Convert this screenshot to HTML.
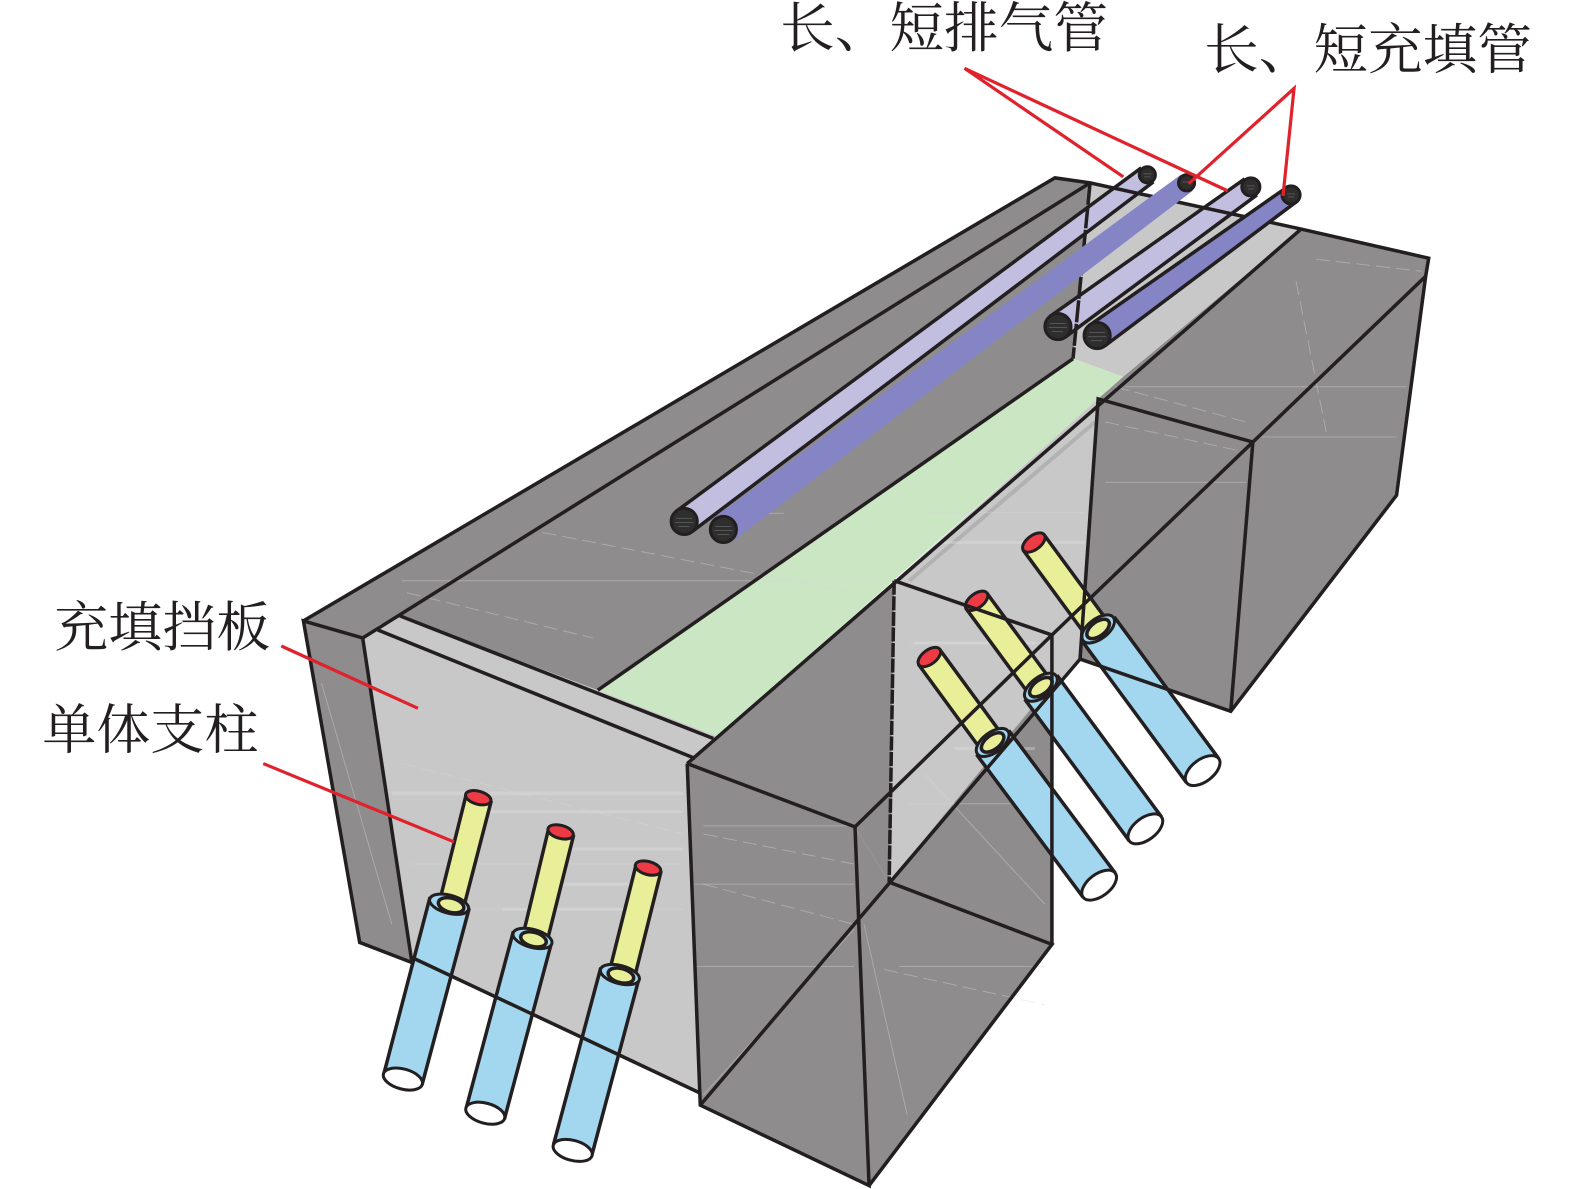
<!DOCTYPE html>
<html><head><meta charset="utf-8">
<style>
html,body{margin:0;padding:0;background:#fff;width:1575px;height:1189px;overflow:hidden}
svg{display:block}
.k{fill:none;stroke:#231f20;stroke-width:3.5;stroke-linejoin:miter}
.g{fill:#8e8c8d}.l{fill:#c8c8c8}
.r{stroke:#e0222c;stroke-width:3.2;fill:none}
.tx{font-family:"Liberation Serif","Noto Serif CJK SC",serif;font-size:54.4px;fill:#231f20}
.w{stroke:#d6d6d6;stroke-width:1;fill:none;opacity:.4}
.d{stroke:#d6d6d6;stroke-width:1;fill:none;stroke-dasharray:14 6;opacity:.4}
.b{stroke:#e2e2e2;stroke-width:3;fill:none;opacity:.35}
.c{fill:#2f2e2f;stroke:#231f20;stroke-width:3}
.h{fill:none;stroke:#231f20;stroke-width:3.5}
.s{stroke:#565556;stroke-width:1;fill:none}
</style></head>
<body>
<svg width="1575" height="1189" viewBox="0 0 1575 1189" xmlns="http://www.w3.org/2000/svg">
<g transform="scale(1.0047)">
<!-- faces -->
<polygon class="g" points="302,618 1050,177 1085,182 1068,357 595,687 398,613 361,635"/>
<polygon class="l" points="1085,182 1295,228 1118,375 1068,357"/>
<polygon fill="#cae6c3" points="1068,357 1118,375 714,733 595,687"/>
<polygon class="l" points="361,635 378,622 398,613 595,687 714,733 684,760 697,1088 410,953"/>
<polygon class="g" points="302,618 361,635 410,958 358,938"/>
<polygon class="g" points="1295,228 1422,257 1419,275 1247,440 1093,397 1118,375"/>
<polygon class="g" points="1093,397 1247,440 1419,275 1390,493 1225,708 1075,656"/>
<polygon class="l" points="890,578 1093,397 1075,656 885,878"/>
<polygon class="g" points="684,760 714,733 890,578 888,787 851,823"/>
<polygon class="l" points="890,578 1047,632 1047,650 885,878"/>
<polygon class="g" points="684,760 851,823 865,1180 697,1100"/>
<polygon class="g" points="851,823 885,878 1047,940 865,1180"/>
<polygon class="g" points="885,878 1047,680 1047,940"/>
<polygon class="g" points="851,823 888,787 885,878"/>
<!-- texture -->
<g>
<line x1="905" y1="578" x2="1090" y2="420" stroke="#b2b2b4" stroke-width="4"/>
<path class="w" d="M400 578H880M670 511H780M1120 385L1400 385M700 822H850M690 880H850M690 962H850M385 788H680M410 860H680M420 905H680M905 640H1040M920 510H1080M1100 480H1240M1250 435H1390M905 800H1030M895 962H1040"/>
<path class="d" d="M540 530L850 590M405 590L590 635M1110 385L1240 420M1100 420L1240 450M1290 280L1320 430M700 830L850 860M700 880L850 920M880 965L1040 1000M1310 258L1415 270M400 760L680 830"/>
<path class="w" d="M320 680L390 920M860 920L903 1110M920 770L1040 900M700 1090L850 925"/>
<path class="b" d="M390 790H680M480 808H680M560 845H680M560 880H650M500 905H620M930 540H1080M910 640H1030M950 745H1030"/>
</g>
<!-- front columns -->
<g>
<polygon fill="#e9ee98" points="464,791 489,797 461,905 437,899"/>
<polygon fill="#a3d7f0" points="428,893 467,904 420,1080 382,1069"/>
<path class="h" d="M464 791L437 899M489 797L461 905M428 893L382 1069M467 904L420 1080"/>
<ellipse cx="476" cy="794" rx="13" ry="6.5" fill="#ee3a45" stroke="#231f20" stroke-width="3" transform="rotate(15 476 794)"/>
<ellipse cx="447" cy="900" rx="20" ry="9" fill="#a3d7f0" stroke="#231f20" stroke-width="3" transform="rotate(15 447 900)"/>
<ellipse cx="449" cy="901" rx="13" ry="7" fill="#e9ee98" stroke="#231f20" stroke-width="3.5" transform="rotate(15 449 901)"/>
<ellipse cx="401" cy="1074" rx="20" ry="10" fill="#fff" stroke="#231f20" stroke-width="3" transform="rotate(15 401 1074)"/>

<polygon fill="#e9ee98" points="546,825 571,831 544,939 520,933"/>
<polygon fill="#a3d7f0" points="511,927 549,938 502,1114 464,1103"/>
<path class="h" d="M546 825L520 933M571 831L544 939M511 927L464 1103M549 938L502 1114"/>
<ellipse cx="558" cy="828" rx="13" ry="6.5" fill="#ee3a45" stroke="#231f20" stroke-width="3" transform="rotate(15 558 828)"/>
<ellipse cx="530" cy="934" rx="20" ry="9" fill="#a3d7f0" stroke="#231f20" stroke-width="3" transform="rotate(15 530 934)"/>
<ellipse cx="531" cy="935" rx="13" ry="7" fill="#e9ee98" stroke="#231f20" stroke-width="3.5" transform="rotate(15 531 935)"/>
<ellipse cx="483" cy="1108" rx="20" ry="10" fill="#fff" stroke="#231f20" stroke-width="3" transform="rotate(15 483 1108)"/>

<polygon fill="#e9ee98" points="633,861 658,867 631,975 606,969"/>
<polygon fill="#a3d7f0" points="598,963 636,974 589,1150 551,1139"/>
<path class="h" d="M633 861L606 969M658 867L631 975M598 963L551 1139M636 974L589 1150"/>
<ellipse cx="645" cy="864" rx="13" ry="6.5" fill="#ee3a45" stroke="#231f20" stroke-width="3" transform="rotate(15 645 864)"/>
<ellipse cx="617" cy="970" rx="20" ry="9" fill="#a3d7f0" stroke="#231f20" stroke-width="3" transform="rotate(15 617 970)"/>
<ellipse cx="618" cy="971" rx="13" ry="7" fill="#e9ee98" stroke="#231f20" stroke-width="3.5" transform="rotate(15 618 971)"/>
<ellipse cx="570" cy="1145" rx="20" ry="10" fill="#fff" stroke="#231f20" stroke-width="3" transform="rotate(15 570 1145)"/>
</g>
<!-- right columns -->
<g>
<polygon fill="#a3d7f0" points="972,751 1004,727 1110,869 1078,893"/>
<polygon fill="#e9ee98" points="914,661 935,646 998,732 977,747"/>
<path class="h" d="M914 661L977 747M935 646L998 732M972 751L1078 893M1004 727L1110 869"/>
<ellipse cx="925" cy="654" rx="13" ry="7" fill="#ee3a45" stroke="#231f20" stroke-width="3" transform="rotate(-37 925 654)"/>
<ellipse cx="988" cy="739" rx="19" ry="10" fill="#a3d7f0" stroke="#231f20" stroke-width="3" transform="rotate(-37 988 739)"/>
<ellipse cx="988" cy="739" rx="13" ry="7" fill="#e9ee98" stroke="#231f20" stroke-width="3.5" transform="rotate(-37 988 739)"/>
<ellipse cx="1094" cy="881" rx="20" ry="11" fill="#fff" stroke="#231f20" stroke-width="3" transform="rotate(-37 1094 881)"/>

<polygon fill="#a3d7f0" points="1020,696 1052,672 1156,813 1124,837"/>
<polygon fill="#e9ee98" points="961,605 982,590 1046,677 1025,692"/>
<path class="h" d="M961 605L1025 692M982 590L1046 677M1020 696L1124 837M1052 672L1156 813"/>
<ellipse cx="972" cy="598" rx="13" ry="7" fill="#ee3a45" stroke="#231f20" stroke-width="3" transform="rotate(-37 972 598)"/>
<ellipse cx="1036" cy="684" rx="19" ry="10" fill="#a3d7f0" stroke="#231f20" stroke-width="3" transform="rotate(-37 1036 684)"/>
<ellipse cx="1036" cy="684" rx="13" ry="7" fill="#e9ee98" stroke="#231f20" stroke-width="3.5" transform="rotate(-37 1036 684)"/>
<ellipse cx="1140" cy="825" rx="20" ry="11" fill="#fff" stroke="#231f20" stroke-width="3" transform="rotate(-37 1140 825)"/>

<polygon fill="#a3d7f0" points="1077,638 1109,614 1213,755 1181,779"/>
<polygon fill="#e9ee98" points="1018,547 1039,532 1103,619 1082,634"/>
<path class="h" d="M1018 547L1082 634M1039 532L1103 619M1077 638L1181 779M1109 614L1213 755"/>
<ellipse cx="1029" cy="540" rx="13" ry="7" fill="#ee3a45" stroke="#231f20" stroke-width="3" transform="rotate(-37 1029 540)"/>
<ellipse cx="1093" cy="626" rx="19" ry="10" fill="#a3d7f0" stroke="#231f20" stroke-width="3" transform="rotate(-37 1093 626)"/>
<ellipse cx="1093" cy="626" rx="13" ry="7" fill="#e9ee98" stroke="#231f20" stroke-width="3.5" transform="rotate(-37 1093 626)"/>
<ellipse cx="1197" cy="767" rx="20" ry="11" fill="#fff" stroke="#231f20" stroke-width="3" transform="rotate(-37 1197 767)"/>
</g>
<!-- tube 1 + 3 -->
<polygon fill="#c2bee0" points="673,509 1136,167 1148,181 689,529"/>
<path class="h" d="M673 509L1136 167M689 529L1148 181"/>
<circle class="c" cx="1142" cy="174" r="8"/>
<polygon fill="#c2bee0" points="1045,315 1239,178 1251,194 1061,335"/>
<path class="h" d="M1045 315L1239 178M1061 335L1251 194"/>
<circle class="c" cx="1245" cy="186" r="9"/>
<!-- structural lines -->
<g class="k">
<path d="M302 618L1050 177L1085 182L1295 228L1422 257L1419 275L1390 493L1225 708L1075 656"/>
<path d="M302 618L361 635L410 958L358 938Z"/>
<path d="M361 635L1085 182"/>
<path d="M398 613L710 735"/>
<path d="M376 627L692 755"/>
<path d="M595 687L1068 357"/>
<path d="M684 760L1295 228"/>
<path d="M684 760L851 823L1047 632L890 578"/>
<path d="M684 760L697 1100L865 1180L851 823"/>
<path d="M410 953L697 1088"/>
<path d="M697 1100L1075 656L1093 397L1247 440L1225 708"/>
<path d="M1247 440L1047 632"/>
<path d="M1247 440L1419 275"/>
<path d="M865 1180L1047 940L885 878"/>
<path d="M1047 632V940"/>
<path d="M890 578L885 878" stroke-dasharray="14 1.5"/>
<path d="M1085 182L1068 357" stroke-dasharray="22 1.5"/>
</g>
<!-- tubes 2 + 4 -->
<polygon fill="#8585c5" points="711,515 1175,174 1187,190 729,539"/>
<circle class="c" cx="1181" cy="182" r="8"/>
<polygon fill="#8585c5" points="1084,324 1280,187 1290,201 1100,344"/>
<path class="h" d="M1084 324L1280 187M1100 344L1290 201"/>
<circle class="c" cx="1285" cy="194" r="9"/>
<circle class="c" cx="681" cy="519" r="13"/>
<circle class="c" cx="720" cy="527" r="13"/>
<circle class="c" cx="1053" cy="325" r="13"/>
<circle class="c" cx="1092" cy="334" r="13"/>
<path class="s" d="M673 516H689M672 520H690M675 524H686M712 524H728M711 528H729M714 532H726M1045 322H1061M1044 326H1062M1047 330H1058M1084 331H1100M1083 335H1101M1086 339H1097M1138 173H1146M1139 176H1145M1177 181H1185M1241 185H1249M1242 188H1248M1281 193H1289M1282 196H1288"/>
<!-- red leaders -->
<path class="r" d="M1118 176L960 68L1222 190"/>
<path class="r" d="M1183 183L1288 88L1277 195"/>
<path class="r" d="M280 643L416 705"/>
<path class="r" d="M262 760L452 838"/>
<!-- labels -->
<text class="tx" x="776.5" y="47">长、短排气管</text>
<text class="tx" x="1198.5" y="68">长、短充填管</text>
<text class="tx" style="font-size:53.8px" x="54" y="643">充填挡板</text>
<text class="tx" style="font-size:53.8px" x="42" y="745">单体支柱</text>
</g>
</svg>
</body></html>
